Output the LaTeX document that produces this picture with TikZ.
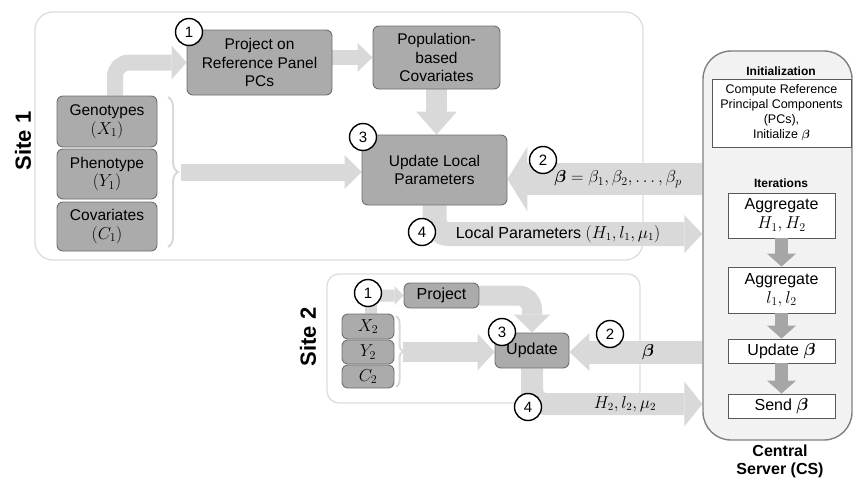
\documentclass[tikz,border=0pt]{standalone}
\usepackage{fontspec}
\setmainfont{Liberation Sans}
\usepackage{amsmath,bm}
\usetikzlibrary{arrows.meta,decorations.pathreplacing}
\definecolor{lg}{HTML}{D9D9D9}
\definecolor{boxfill}{HTML}{ABABAB}
\definecolor{boxline}{HTML}{6E6E6E}
\definecolor{csfill}{HTML}{F2F2F2}
\definecolor{csline}{HTML}{808080}
\definecolor{csarrow}{HTML}{A6A6A6}
\definecolor{framec}{HTML}{DDDDDD}
\definecolor{wline}{HTML}{595959}
\newcommand{\mth}[1]{{\fontsize{17.5}{17}\selectfont$#1$}}
\pgfdeclarelayer{bg}
\pgfsetlayers{bg,main}
\tikzset{
  txt/.style={font=\fontsize{15.5}{18.5}\selectfont},
  gbox/.style={draw=boxline, fill=boxfill, line width=0.9pt, rounded corners=6pt, inner sep=0pt, align=center, txt},
  sitebox/.style={draw=framec, line width=1.3pt, rounded corners=#1, inner sep=0pt},
  sitelbl/.style={rotate=90, font=\fontsize{22}{26}\bfseries\selectfont},
  num/.style={circle, draw=black, line width=1.4pt, fill=white, minimum size=27pt, inner sep=0pt, font=\fontsize{15}{18}\selectfont},
  fat/.style={draw=lg, line width=#1, rounded corners=14pt},
  fathead/.style 2 args={-{Triangle[length=#1,width=#2,line width=0pt]}},
  csbox/.style={draw=csline, fill=csfill, line width=1.4pt, rounded corners=28pt, inner sep=0pt},
  wbox/.style={draw=wline, fill=white, line width=0.8pt, inner sep=0pt, align=center},
  bigtxt/.style={font=\fontsize{16}{19}\selectfont},
  smalltxt/.style={font=\fontsize{12.5}{15}\selectfont},
  hdr/.style={font=\fontsize{12}{14}\bfseries\selectfont},
  csarr/.style={draw=csarrow, line width=13pt, -{Triangle[length=13pt,width=29pt,line width=0pt]}},
  bracestyle/.style={draw=lg, line width=2pt, decorate, decoration={brace, amplitude=#1, aspect=0.5}}
}
\begin{document}
\begin{tikzpicture}[x=1pt,y=-1pt]
\useasboundingbox (0,0) rectangle (853,479);

% ---------- Central server ----------
\node[csbox, minimum width=149pt, minimum height=389pt] (cs) at (777.5,245.5) {};
\node[hdr] (initt) at (781,71) {Initialization};
\node[wbox, smalltxt, minimum width=139pt, minimum height=68pt] (init) at (781.5,113) {Compute Reference\\Principal Components\\(PCs),\\Initialize $\bm{\beta}$};
\node[hdr] (itt) at (781,183) {Iterations};
\node[wbox, bigtxt, minimum width=107pt, minimum height=45pt] (agg1) at (781.5,215.5) {Aggregate\\\mth{H_1, H_2}};
\node[wbox, bigtxt, minimum width=107pt, minimum height=46pt] (agg2) at (781.5,290) {Aggregate\\\mth{l_1, l_2}};
\node[wbox, bigtxt, minimum width=107pt, minimum height=24pt] (updb) at (781.5,351) {Update \mth{\bm{\beta}}};
\node[wbox, bigtxt, minimum width=107pt, minimum height=24pt] (send) at (781.5,406) {Send \mth{\bm{\beta}}};
\draw[csarr] (agg1.south) -- (agg2.north);
\draw[csarr] (agg2.south) -- (updb.north);
\draw[csarr] (updb.south) -- (send.north);
\node[font=\fontsize{16}{18}\bfseries\selectfont, align=center] (cst) at (780,461) {Central\\Server (CS)};

% ---------- Site 1 ----------
\node[sitelbl] (s1l) at (23,141) {Site 1};
\node[gbox, minimum width=100pt, minimum height=51pt] (geno) at (107,121.5) {Genotypes\\\mth{(X_1)}};
\node[gbox, minimum width=100pt, minimum height=50pt] (pheno) at (107,174) {Phenotype\\\mth{(Y_1)}};
\node[gbox, minimum width=100pt, minimum height=49pt] (cov) at (107,226.5) {Covariates\\\mth{(C_1)}};
\node[gbox, minimum width=145pt, minimum height=65pt] (proj) at (259.5,62.5) {Project on\\Reference Panel\\PCs};
\node[gbox, minimum width=127pt, minimum height=63pt] (pop) at (436.5,57.5) {Population-\\based\\Covariates};
\node[gbox, minimum width=145pt, minimum height=70pt] (upd) at (434.5,170) {Update Local\\Parameters};
\node[bigtxt] (bl) at (618,179) {\mth{\bm{\beta} = \beta_1, \beta_2, \ldots, \beta_p}};
\node[bigtxt] (lp) at (558,234) {Local Parameters $(H_1, l_1, \mu_1)$};
\coordinate (g1) at ([xshift=8pt]geno.north);
\coordinate (b1t) at (168,97);
\coordinate (b1b) at (168,247);
\coordinate (b1) at (181,172);

% ---------- Site 2 ----------
\node[sitelbl] (s2l) at (308,337) {Site 2};
\node[gbox, minimum width=52pt, minimum height=25pt] (x2) at (368,326.5) {\mth{X_2}};
\node[gbox, minimum width=52pt, minimum height=24pt] (y2) at (368,352) {\mth{Y_2}};
\node[gbox, minimum width=52pt, minimum height=23pt] (c2) at (368,376.5) {\mth{C_2}};
\node[gbox, bigtxt, minimum width=75pt, minimum height=25pt] (proj2) at (441.5,295.5) {Project};
\node[gbox, bigtxt, minimum width=74pt, minimum height=35pt] (upd2) at (532,350.5) {Update};
\node[bigtxt] (bl2) at (648,352) {\mth{\bm{\beta}}};
\node[bigtxt] (lp2) at (625,404) {$H_2, l_2, \mu_2$};
\coordinate (x2t) at ([xshift=3pt]x2.north);
\coordinate (b2t) at (396,316);
\coordinate (b2b) at (396,387);
\coordinate (b2) at (403,352);

% ---------- step numbers ----------
\node[num] (n11) at (189,32) {1};
\node[num] (n12) at (543,160) {2};
\node[num] (n13) at (363,137) {3};
\node[num] (n14) at (422,232) {4};
\node[num] (n21) at (368,293) {1};
\node[num] (n22) at (610,334) {2};
\node[num] (n23) at (502,332) {3};
\node[num] (n24) at (528,407) {4};

% ---------- background: frames, braces, fat arrows ----------
\begin{pgfonlayer}{bg}
\node[sitebox=18pt, minimum width=608pt, minimum height=248pt] (s1) at (339,136) {};
\node[sitebox=12pt, minimum width=313pt, minimum height=129pt] (s2) at (483.5,338.5) {};
\draw[bracestyle=10pt] (b1t) -- (b1b);
\draw[bracestyle=7pt] (b2t) -- (b2b);
% site 1
\draw[fat=16pt, fathead={15pt}{34pt}] (g1) |- (proj.west);
\draw[fat=15pt, fathead={15pt}{29pt}] (proj.east |- pop.west) -- (pop.west);
\draw[fat=21pt, fathead={23pt}{41pt}] (pop.south) -- (pop.south |- upd.north);
\draw[fat=17pt, fathead={17pt}{34pt}] (b1) -- (b1 -| upd.west);
\draw[fat=32pt, fathead={20pt}{65pt}] (cs.west |- bl) -- (upd.east |- bl);
\draw[fat=24pt, fathead={18pt}{38pt}] (upd.south) |- (cs.west |- lp);
% site 2
\draw[fat=12pt, rounded corners=8pt, fathead={9pt}{19pt}] (x2t) |- (proj2.west);
\draw[fat=20pt, fathead={18pt}{36pt}] (proj2.east) -| (upd2.north);
\draw[fat=20pt, fathead={17pt}{37pt}] (b2) -- (b2 -| upd2.west);
\draw[fat=23pt, fathead={20pt}{38pt}] (cs.west |- bl2) -- (upd2.east |- bl2);
\draw[fat=22pt, fathead={18pt}{45pt}] (upd2.south) |- (cs.west |- lp2);
\end{pgfonlayer}
\end{tikzpicture}
\end{document}
